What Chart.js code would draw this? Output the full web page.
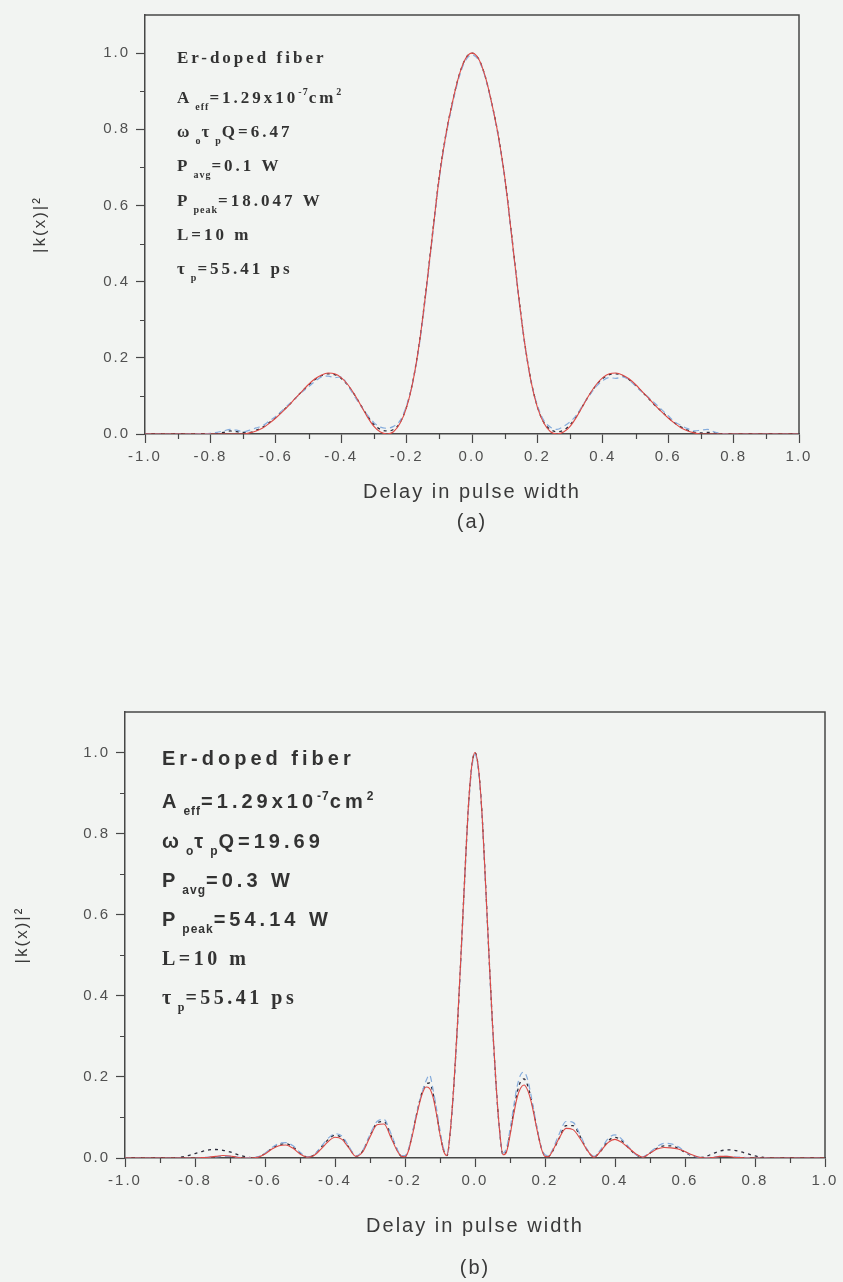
<!DOCTYPE html>
<html>
<head>
<meta charset="utf-8">
<script src="https://cdn.jsdelivr.net/npm/chart.js@4.4.0/dist/chart.umd.min.js"></script>
<style>
  html, body { margin: 0; padding: 0; background: #f2f4f2; }
  body { width: 843px; height: 1282px; position: relative; overflow: hidden; }
  canvas { position: absolute; left: 0; }
  #chartA { top: 0; }
  #chartB { top: 620px; }
</style>
</head>
<body>
<canvas id="chartA" width="843" height="560"></canvas>
<canvas id="chartB" width="843" height="662"></canvas>
<script>
// ---- data: panel (a) ----
const xA = [-1.0, -0.9, -0.8, -0.76, -0.74, -0.72,
  -0.70, -0.68, -0.66, -0.64, -0.62, -0.60, -0.58, -0.56, -0.54, -0.52, -0.50, -0.48,
  -0.46, -0.44, -0.42, -0.40, -0.38, -0.36, -0.34, -0.32, -0.30, -0.28, -0.26, -0.24,
  -0.22, -0.20, -0.18, -0.16, -0.14, -0.12, -0.10, -0.08, -0.06, -0.04, -0.02,
  0.00,
  0.02, 0.04, 0.06, 0.08, 0.10, 0.12, 0.14, 0.16, 0.18, 0.20, 0.22, 0.24,
  0.26, 0.28, 0.30, 0.32, 0.34, 0.36, 0.38, 0.40, 0.42, 0.44, 0.46, 0.48,
  0.50, 0.52, 0.54, 0.56, 0.58, 0.60, 0.62, 0.64, 0.66, 0.68, 0.70,
  0.72, 0.74, 0.76, 0.8, 0.9, 1.0];

const redA = [0, 0, 0, 0, 0, 0,
  0.000, 0.003, 0.008, 0.016, 0.028, 0.042, 0.058, 0.075, 0.094, 0.112, 0.130, 0.145,
  0.155, 0.160, 0.158, 0.148, 0.130, 0.105, 0.075, 0.045, 0.020, 0.005, 0.000, 0.006,
  0.028, 0.070, 0.140, 0.245, 0.380, 0.530, 0.675, 0.785, 0.870, 0.940, 0.985,
  1.000,
  0.985, 0.940, 0.870, 0.785, 0.675, 0.530, 0.380, 0.245, 0.140, 0.070, 0.028, 0.006,
  0.000, 0.005, 0.020, 0.045, 0.075, 0.105, 0.130, 0.148, 0.158, 0.160, 0.155, 0.145,
  0.130, 0.112, 0.094, 0.075, 0.058, 0.042, 0.028, 0.016, 0.008, 0.003, 0.000,
  0, 0, 0, 0, 0, 0];

const blueA = [0, 0, 0.002, 0.008, 0.012, 0.010,
  0.006, 0.010, 0.016, 0.022, 0.034, 0.046, 0.062, 0.078, 0.094, 0.110, 0.124, 0.138,
  0.150, 0.152, 0.148, 0.150, 0.128, 0.100, 0.074, 0.050, 0.030, 0.018, 0.015, 0.020,
  0.035, 0.075, 0.140, 0.240, 0.375, 0.525, 0.670, 0.780, 0.865, 0.935, 0.980,
  0.995,
  0.982, 0.938, 0.868, 0.782, 0.672, 0.528, 0.378, 0.243, 0.140, 0.075, 0.035, 0.018,
  0.012, 0.020, 0.032, 0.050, 0.078, 0.102, 0.125, 0.140, 0.148, 0.146, 0.150, 0.142,
  0.126, 0.110, 0.096, 0.080, 0.064, 0.048, 0.032, 0.022, 0.014, 0.008, 0.010,
  0.012, 0.006, 0.002, 0, 0, 0];

const blackA = [0, 0, 0, 0.004, 0.008, 0.006,
  0.004, 0.004, 0.010, 0.018, 0.030, 0.044, 0.060, 0.076, 0.094, 0.112, 0.128, 0.143,
  0.153, 0.158, 0.156, 0.146, 0.128, 0.104, 0.076, 0.048, 0.025, 0.012, 0.008, 0.012,
  0.030, 0.072, 0.142, 0.246, 0.382, 0.532, 0.676, 0.786, 0.870, 0.940, 0.985,
  1.000,
  0.985, 0.940, 0.870, 0.786, 0.676, 0.532, 0.382, 0.246, 0.142, 0.072, 0.030, 0.012,
  0.006, 0.010, 0.024, 0.048, 0.076, 0.104, 0.128, 0.146, 0.156, 0.158, 0.153, 0.143,
  0.128, 0.111, 0.093, 0.075, 0.059, 0.043, 0.029, 0.018, 0.010, 0.005, 0.003,
  0.004, 0.003, 0, 0, 0, 0];

// ---- data: panel (b) ----
const xB = [-1.0, -0.9, -0.86,
  -0.84, -0.82, -0.80, -0.78, -0.76, -0.74, -0.72, -0.70, -0.68, -0.66, -0.64, -0.62,
  -0.60, -0.58, -0.56, -0.54, -0.52, -0.50, -0.48, -0.46, -0.44, -0.42, -0.40, -0.38,
  -0.36, -0.34, -0.32, -0.30, -0.28, -0.26, -0.24, -0.22,
  -0.21, -0.20, -0.19, -0.18, -0.17, -0.16, -0.15, -0.14, -0.13, -0.12, -0.11,
  -0.10, -0.09, -0.08, -0.07, -0.06, -0.05, -0.04, -0.03, -0.02, -0.01,
  0.00,
  0.01, 0.02, 0.03, 0.04, 0.05, 0.06, 0.07, 0.08, 0.09, 0.10,
  0.11, 0.12, 0.13, 0.14, 0.15, 0.16, 0.17, 0.18, 0.19, 0.20, 0.21,
  0.22, 0.24, 0.26, 0.28, 0.30, 0.32, 0.34, 0.36, 0.38, 0.40, 0.42, 0.44,
  0.46, 0.48, 0.50, 0.52, 0.54, 0.56, 0.58, 0.60, 0.62, 0.64, 0.66, 0.68,
  0.70, 0.72, 0.74, 0.76, 0.78, 0.80, 0.82, 0.84,
  0.86, 0.9, 1.0];

const redB = [0, 0, 0,
  0, 0, 0, 0.001, 0.002, 0.004, 0.006, 0.005, 0.002, 0, 0, 0.002,
  0.010, 0.022, 0.030, 0.032, 0.024, 0.010, 0.002, 0.006, 0.022, 0.040, 0.051, 0.046,
  0.024, 0.004, 0.016, 0.052, 0.082, 0.084, 0.050, 0.014,
  0.004, 0.003, 0.018, 0.052, 0.092, 0.130, 0.160, 0.175, 0.172, 0.150, 0.108,
  0.058, 0.018, 0.006, 0.072, 0.186, 0.332, 0.502, 0.682, 0.852, 0.962,
  1.000,
  0.960, 0.850, 0.680, 0.500, 0.330, 0.185, 0.070, 0.008, 0.015, 0.055,
  0.105, 0.148, 0.172, 0.180, 0.168, 0.140, 0.100, 0.058, 0.022, 0.004, 0.003,
  0.015, 0.048, 0.073, 0.070, 0.048, 0.020, 0.002, 0.018, 0.038, 0.046, 0.038, 0.024,
  0.010, 0.002, 0.012, 0.022, 0.026, 0.025, 0.022, 0.016, 0.008, 0.002, 0.000, 0.001,
  0.004, 0.004, 0.002, 0.001, 0, 0, 0, 0,
  0, 0, 0];

const blueB = [0, 0, 0,
  0, 0, 0, 0.001, 0.002, 0.003, 0.004, 0.004, 0.002, 0.001, 0.001, 0.003,
  0.012, 0.026, 0.036, 0.038, 0.030, 0.014, 0.003, 0.008, 0.028, 0.048, 0.060, 0.054,
  0.028, 0.005, 0.020, 0.058, 0.090, 0.095, 0.060, 0.018,
  0.006, 0.006, 0.022, 0.058, 0.098, 0.135, 0.165, 0.190, 0.205, 0.170, 0.122,
  0.068, 0.024, 0.010, 0.068, 0.180, 0.325, 0.495, 0.675, 0.845, 0.955,
  0.995,
  0.955, 0.845, 0.675, 0.495, 0.325, 0.180, 0.068, 0.012, 0.025, 0.070,
  0.125, 0.175, 0.205, 0.212, 0.195, 0.155, 0.108, 0.062, 0.025, 0.008, 0.006,
  0.018, 0.058, 0.090, 0.088, 0.058, 0.022, 0.004, 0.022, 0.048, 0.057, 0.046, 0.026,
  0.008, 0.003, 0.014, 0.028, 0.036, 0.035, 0.028, 0.016, 0.006, 0.002, 0.001, 0.002,
  0.004, 0.004, 0.003, 0.002, 0.001, 0, 0.001, 0,
  0, 0, 0];

const blackB = [0, 0, 0,
  0.002, 0.006, 0.011, 0.016, 0.020, 0.021, 0.019, 0.015, 0.009, 0.004, 0.001, 0.002,
  0.011, 0.024, 0.033, 0.035, 0.027, 0.012, 0.003, 0.007, 0.026, 0.045, 0.056, 0.050,
  0.026, 0.004, 0.018, 0.055, 0.086, 0.090, 0.055, 0.016,
  0.004, 0.004, 0.020, 0.055, 0.095, 0.135, 0.165, 0.182, 0.185, 0.160, 0.112,
  0.060, 0.020, 0.006, 0.070, 0.184, 0.330, 0.500, 0.680, 0.850, 0.960,
  1.000,
  0.960, 0.850, 0.680, 0.500, 0.330, 0.184, 0.070, 0.008, 0.018, 0.060,
  0.112, 0.160, 0.188, 0.195, 0.180, 0.148, 0.104, 0.060, 0.024, 0.006, 0.004,
  0.014, 0.048, 0.080, 0.080, 0.054, 0.020, 0.003, 0.018, 0.042, 0.051, 0.042, 0.024,
  0.008, 0.003, 0.012, 0.024, 0.030, 0.030, 0.024, 0.014, 0.005, 0.001, 0.004, 0.011,
  0.017, 0.020, 0.019, 0.015, 0.010, 0.005, 0.002, 0.000,
  0, 0, 0];

// ---- ticks ----
const xTicks = [-1.0, -0.8, -0.6, -0.4, -0.2, 0.0, 0.2, 0.4, 0.6, 0.8, 1.0];
const xMinorTicks = [-0.9, -0.7, -0.5, -0.3, -0.1, 0.1, 0.3, 0.5, 0.7, 0.9];
const yTicks = [0.0, 0.2, 0.4, 0.6, 0.8, 1.0];
const yMinorTicks = [0.1, 0.3, 0.5, 0.7, 0.9];

// ---- labels drawn inside the plots ----
const notesA = [
  [['Er-doped fiber', 'n']],
  [['A', 'n'], ['eff', 'sub'], ['=1.29x10', 'n'], ['-7', 'sup'], ['cm', 'n'], ['2', 'sup']],
  [['ω', 'n'], ['o', 'sub'], ['τ', 'n'], ['p', 'sub'], ['Q=6.47', 'n']],
  [['P', 'n'], ['avg', 'sub'], ['=0.1 W', 'n']],
  [['P', 'n'], ['peak', 'sub'], ['=18.047 W', 'n']],
  [['L=10 m', 'n']],
  [['τ', 'n'], ['p', 'sub'], ['=55.41 ps', 'n']]
];
const notesB = [
  [['Er-doped fiber', 'n']],
  [['A', 'n'], ['eff', 'sub'], ['=1.29x10', 'n'], ['-7', 'sup'], ['cm', 'n'], ['2', 'sup']],
  [['ω', 'n'], ['o', 'sub'], ['τ', 'n'], ['p', 'sub'], ['Q=19.69', 'n']],
  [['P', 'n'], ['avg', 'sub'], ['=0.3 W', 'n']],
  [['P', 'n'], ['peak', 'sub'], ['=54.14 W', 'n']],
  [['L=10 m', 'n']],
  [['τ', 'n'], ['p', 'sub'], ['=55.41 ps', 'n']]
];

const axisColor = '#474747';
const tickColor = '#505050';
const SANS = '"Liberation Sans", Arial, sans-serif';
const SERIF = '"Liberation Serif", "Times New Roman", serif';

const pointsOf = (xs, ys) => xs.map((x, i) => ({ x: x, y: ys[i] }));

// box frame (top + right) and minor ticks
const frameTicks = {
  id: 'frameTicks',
  beforeDraw(chart) {
    chart.ctx.letterSpacing = '2px';
  },
  afterDraw(chart) {
    const { ctx, chartArea: a, scales: { x, y } } = chart;
    ctx.save();
    ctx.strokeStyle = axisColor;
    ctx.lineWidth = 1.5;
    ctx.beginPath();
    ctx.moveTo(a.left, a.top);
    ctx.lineTo(a.right, a.top);
    ctx.lineTo(a.right, a.bottom);
    ctx.stroke();
    ctx.lineWidth = 1.2;
    ctx.beginPath();
    xMinorTicks.forEach(v => {
      const px = Math.round(x.getPixelForValue(v)) + 0.5;
      ctx.moveTo(px, a.bottom);
      ctx.lineTo(px, a.bottom + 5);
    });
    yMinorTicks.forEach(v => {
      const py = Math.round(y.getPixelForValue(v)) + 0.5;
      ctx.moveTo(a.left, py);
      ctx.lineTo(a.left - 5, py);
    });
    ctx.stroke();
    ctx.restore();
  }
};

// parameter text block with sub/superscripts
const notes = {
  id: 'notes',
  afterDraw(chart, args, opts) {
    const { ctx, chartArea: a } = chart;
    ctx.save();
    ctx.fillStyle = '#333333';
    ctx.textBaseline = 'alphabetic';
    ctx.textAlign = 'left';
    opts.lines.forEach((line, i) => {
      const st = opts.styles[i];
      let cx = a.left + opts.dx;
      const base = a.top + opts.baselines[i];
      line.forEach(([txt, kind]) => {
        let size = st.size, dy = 0;
        if (kind === 'sub') { size = Math.round(st.size * 0.6); dy = 7; cx += 3; }
        if (kind === 'sup') { size = Math.round(st.size * 0.6); dy = -8; }
        ctx.font = 'bold ' + size + 'px ' + st.family;
        ctx.letterSpacing = (kind === 'n' ? st.spacing : 1) + 'px';
        ctx.fillText(txt, cx, base + dy);
        cx += ctx.measureText(txt).width;
      });
    });
    ctx.restore();
  }
};

function buildChart(id, cfg) {
  return new Chart(document.getElementById(id), {
    type: 'line',
    data: {
      datasets: [
        { data: pointsOf(cfg.xs, cfg.red), borderColor: '#dc4a46', borderWidth: 1.1 },
        { data: pointsOf(cfg.xs, cfg.blue), borderColor: '#86acdc', borderWidth: 1.2, borderDash: [6, 4] },
        { data: pointsOf(cfg.xs, cfg.black), borderColor: '#2b2b3a', borderWidth: 1.3, borderDash: [3, 4] }
      ]
    },
    options: {
      responsive: false,
      animation: false,
      devicePixelRatio: 1,
      layout: { padding: cfg.padding },
      elements: {
        point: { radius: 0 },
        line: { cubicInterpolationMode: 'monotone', fill: false }
      },
      plugins: {
        legend: { display: false },
        tooltip: { enabled: false },
        notes: { lines: cfg.notes, styles: cfg.noteStyles, dx: cfg.noteDx, baselines: cfg.noteBaselines }
      },
      scales: {
        x: {
          type: 'linear',
          min: -1,
          max: 1,
          afterBuildTicks: s => { s.ticks = xTicks.map(v => ({ value: v })); },
          afterFit: s => { s.height = cfg.xHeight; },
          border: { color: axisColor, width: 1.5 },
          grid: { drawOnChartArea: false, tickLength: 9, tickColor: axisColor, tickWidth: 1.2 },
          ticks: {
            color: tickColor, padding: 5, autoSkip: false, maxRotation: 0,
            font: { family: SANS, size: 15 },
            callback: v => v.toFixed(1)
          },
          title: {
            display: true,
            text: ['Delay in pulse width', cfg.tag],
            color: '#3a3a3a',
            font: { family: SANS, size: 20, lineHeight: cfg.titleLine + 'px' },
            padding: { top: 0, bottom: cfg.titlePad }
          }
        },
        y: {
          type: 'linear',
          min: 0,
          max: 1.1,
          afterBuildTicks: s => { s.ticks = yTicks.map(v => ({ value: v })); },
          afterFit: s => { s.width = cfg.yWidth; },
          border: { color: axisColor, width: 1.5 },
          grid: { drawOnChartArea: false, tickLength: 9, tickColor: axisColor, tickWidth: 1.2 },
          ticks: {
            color: tickColor, padding: 6,
            font: { family: SANS, size: 15 },
            callback: v => v.toFixed(1)
          },
          title: {
            display: true,
            text: '|k(x)|²',
            color: '#3a3a3a',
            font: { family: SANS, size: 17, lineHeight: '20px' },
            padding: { top: cfg.yTitlePad, bottom: 0 }
          }
        }
      }
    },
    plugins: [frameTicks, notes]
  });
}

const serifStyle = { family: SERIF, size: 17, spacing: 3 };
const sansStyle = { family: SANS, size: 20, spacing: 4 };
const serifStyleB = { family: SERIF, size: 20, spacing: 3.5 };

buildChart('chartA', {
  xs: xA, red: redA, blue: blueA, black: blackA,
  padding: { top: 14, right: 44, left: 0, bottom: 0 },
  xHeight: 126, yWidth: 145,
  tag: '(a)', titleLine: 30, titlePad: 23, yTitlePad: 30,
  notes: notesA,
  noteStyles: [serifStyle, serifStyle, serifStyle, serifStyle, serifStyle, serifStyle, serifStyle],
  noteDx: 32,
  noteBaselines: [48, 88, 122, 156, 191, 225, 259]
});

buildChart('chartB', {
  xs: xB, red: redB, blue: blueB, black: blackB,
  padding: { top: 92, right: 18, left: 0, bottom: 0 },
  xHeight: 124, yWidth: 125,
  tag: '(b)', titleLine: 42, titlePad: -7, yTitlePad: 12,
  notes: notesB,
  noteStyles: [sansStyle, sansStyle, sansStyle, sansStyle, sansStyle, serifStyleB, serifStyleB],
  noteDx: 37,
  noteBaselines: [53, 96, 136, 175, 214, 253, 292]
});
</script>
</body>
</html>
